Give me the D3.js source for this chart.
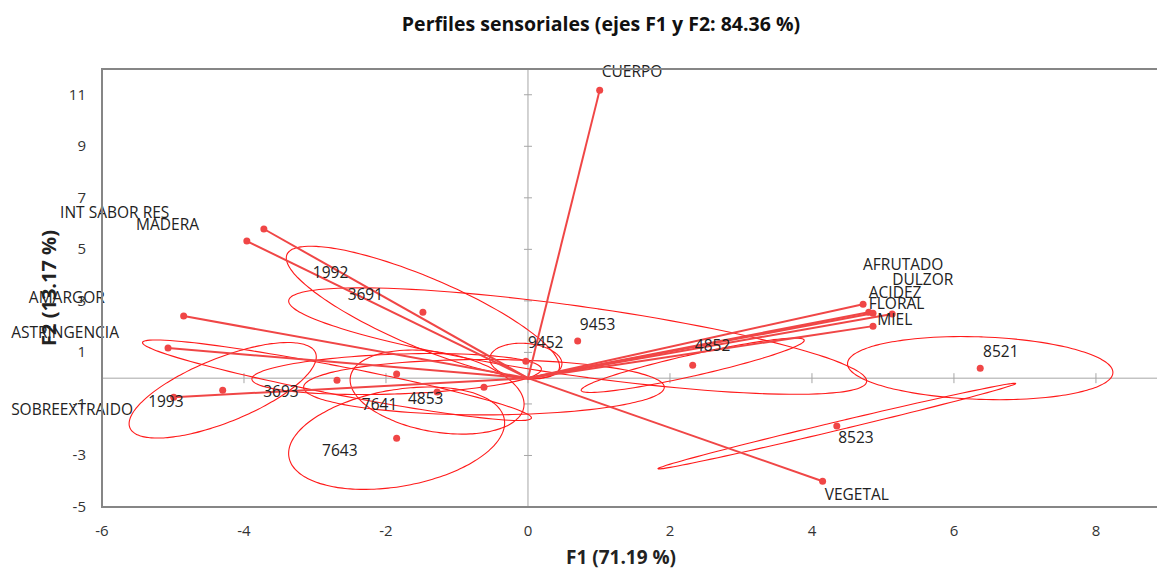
<!DOCTYPE html>
<html>
<head>
<meta charset="utf-8">
<script src="https://cdn.jsdelivr.net/npm/d3@7"></script>
<style>
  body { margin: 0; background: #fff; }
  text { font-family: "Open Sans", "Noto Sans", sans-serif; }
</style>
</head>
<body>
<div id="chart"></div>
<script>
// Variables (vector ends) with label anchor in F1/F2 units
const varNames = ['CUERPO', 'INT SABOR RES', 'MADERA', 'AMARGOR', 'ASTRINGENCIA', 'SOBREEXTRAIDO',
                  'AFRUTADO', 'DULZOR', 'ACIDEZ', 'FLORAL', 'MIEL', 'VEGETAL'];
const varF1 = [1.01, -3.72, -3.96, -4.85, -5.07, -4.99, 4.72, 5.13, 4.80, 4.86, 4.86, 4.15];
const varF2 = [11.18, 5.79, 5.32, 2.41, 1.17, -0.74, 2.87, 2.49, 2.56, 2.52, 2.02, -4.00];
const varLabelF1 = [1.04, -6.59, -5.52, -7.03, -7.28, -7.28, 4.72, 5.13, 4.80, 4.80, 4.92, 4.18];
const varLabelF2 = [11.7, 6.21, 5.75, 2.91, 1.55, -1.44, 4.19, 3.61, 3.11, 2.70, 2.06, -4.73];

// Observations (ellipse centres) with label anchors
const obsNames = ['1992', '3691', '9452', '9453', '4852', '8521', '8523', '7643', '7641', '4853', '3693', '1993'];
const obsF1 = [-1.48, -1.85, -0.03, 0.70, 2.32, 6.37, 4.35, -1.85, -1.28, -0.62, -2.69, -4.30];
const obsF2 = [2.56, 0.16, 0.66, 1.44, 0.50, 0.39, -1.86, -2.33, -0.54, -0.35, -0.08, -0.47];
const obsLabelF1 = [-3.03, -2.54, 0.0, 0.73, 2.35, 6.41, 4.37, -2.90, -2.34, -1.69, -3.73, -5.35];
const obsLabelF2 = [3.88, 3.03, 1.17, 1.86, 1.05, 0.82, -2.52, -3.03, -1.24, -1.01, -0.74, -1.13];

// Confidence ellipses: semi-axes (F1 units) and tilt in degrees
const ellA = [2.08, 2.04, 0.51, 4.11, 1.61, 1.87, 2.59, 1.54, 1.24, 2.54, 2.79, 1.41];
const ellB = [0.49, 0.28, 0.25, 0.49, 0.15, 0.44, 0.06, 0.68, 0.56, 0.39, 0.20, 0.45];
const ellAngle = [-23, 2, -5, -8, 12.7, -2, 13.4, 10, -10, 0, -11, 22];

const xTicks = [-6, -4, -2, 0, 2, 4, 6, 8];
const yTicks = [-5, -3, -1, 1, 3, 5, 7, 9, 11];

const width = 1157, height = 571;
const margin = { left: 102, right: 0, top: 69, bottom: 64 };
const red = '#f04646';
const labelSize = 15.5;

const svg = d3.select('#chart').append('svg')
    .attr('width', width)
    .attr('height', height);

const x = d3.scaleLinear().domain([-6, 8.86]).range([margin.left, width - margin.right]);
const y = d3.scaleLinear().domain([-5, 12]).range([height - margin.bottom, margin.top]);

// Title
svg.append('text')
    .attr('x', 601).attr('y', 31)
    .attr('text-anchor', 'middle')
    .attr('font-size', 19.5).attr('font-weight', 'bold')
    .attr('fill', '#111')
    .text('Perfiles sensoriales (ejes F1 y F2: 84.36 %)');

// Clip for plot area
svg.append('clipPath').attr('id', 'plot')
    .append('rect')
    .attr('x', margin.left).attr('y', margin.top)
    .attr('width', width - margin.left).attr('height', y(-5) - margin.top);

// Zero lines with small cross ticks
const grid = svg.append('g');
grid.append('line')
    .attr('x1', x(0)).attr('x2', x(0))
    .attr('y1', y(12)).attr('y2', y(-5))
    .attr('stroke', '#a6a6a6');
grid.append('line')
    .attr('x1', x(-6)).attr('x2', x(8.86))
    .attr('y1', y(0)).attr('y2', y(0))
    .attr('stroke', '#a6a6a6');
grid.selectAll('.ytk').data(yTicks.slice(1)).enter().append('line')
    .attr('x1', x(0) - 4).attr('x2', x(0) + 4)
    .attr('y1', d => y(d)).attr('y2', d => y(d))
    .attr('stroke', '#a6a6a6');
grid.selectAll('.xtk').data(xTicks.slice(1)).enter().append('line')
    .attr('x1', d => x(d)).attr('x2', d => x(d))
    .attr('y1', y(0) - 5).attr('y2', y(0) + 5)
    .attr('stroke', '#a6a6a6');

// Ellipses
const kx = x(1) - x(0);
const ellG = svg.append('g').attr('clip-path', 'url(#plot)');
obsNames.forEach((name, i) => {
    const cx = x(obsF1[i]), cy = y(obsF2[i]);
    const A = ellA[i] * kx, B = ellB[i] * kx;
    const phi = -ellAngle[i] * Math.PI / 180;
    const pts = d3.range(0, 360, 3).map(t => {
        const r = t * Math.PI / 180;
        const ex = A * Math.cos(r), ey = B * Math.sin(r);
        return [cx + ex * Math.cos(phi) - ey * Math.sin(phi), cy + ex * Math.sin(phi) + ey * Math.cos(phi)];
    });
    ellG.append('path')
        .attr('d', d3.line().curve(d3.curveCardinalClosed)(pts))
        .attr('fill', 'none')
        .attr('stroke', '#ff1a1a')
        .attr('stroke-width', 1.1);
});

// Variable vectors
const vecG = svg.append('g');
varNames.forEach((name, i) => {
    vecG.append('line')
        .attr('x1', x(0)).attr('y1', y(0))
        .attr('x2', x(varF1[i])).attr('y2', y(varF2[i]))
        .attr('stroke', red).attr('stroke-width', 2);
    vecG.append('circle')
        .attr('cx', x(varF1[i])).attr('cy', y(varF2[i]))
        .attr('r', 3.5).attr('fill', red);
    vecG.append('text')
        .attr('x', x(varLabelF1[i])).attr('y', y(varLabelF2[i]))
        .attr('font-size', labelSize).attr('fill', '#222')
        .text(name);
});

// Observation points
const obsG = svg.append('g');
obsNames.forEach((name, i) => {
    obsG.append('circle')
        .attr('cx', x(obsF1[i])).attr('cy', y(obsF2[i]))
        .attr('r', 3.5).attr('fill', red);
    obsG.append('text')
        .attr('x', x(obsLabelF1[i])).attr('y', y(obsLabelF2[i]))
        .attr('font-size', labelSize).attr('fill', '#222')
        .text(name);
});

// Frame
svg.append('path')
    .attr('d', `M${width},${y(12)}H${x(-6)}V${y(-5)}H${width}`)
    .attr('fill', 'none').attr('stroke', '#868686').attr('stroke-width', 2);

// Tick labels
svg.selectAll('.xl').data(xTicks).enter().append('text')
    .attr('x', d => x(d)).attr('y', y(-5) + 29)
    .attr('text-anchor', 'middle').attr('font-size', 15).attr('fill', '#333')
    .text(d => d);
svg.selectAll('.yl').data(yTicks).enter().append('text')
    .attr('x', margin.left - 16).attr('y', d => y(d) + 5)
    .attr('text-anchor', 'end').attr('font-size', 15).attr('fill', '#333')
    .text(d => d);

// Axis titles
svg.append('text')
    .attr('x', 621).attr('y', 564)
    .attr('text-anchor', 'middle').attr('font-size', 19).attr('font-weight', 'bold')
    .attr('fill', '#222')
    .text('F1 (71.19 %)');
svg.append('text')
    .attr('transform', `translate(56, 288) rotate(-90)`)
    .attr('text-anchor', 'middle').attr('font-size', 20).attr('font-weight', 'bold')
    .attr('fill', '#222')
    .text('F2 (13.17 %)');
</script>
</body>
</html>
